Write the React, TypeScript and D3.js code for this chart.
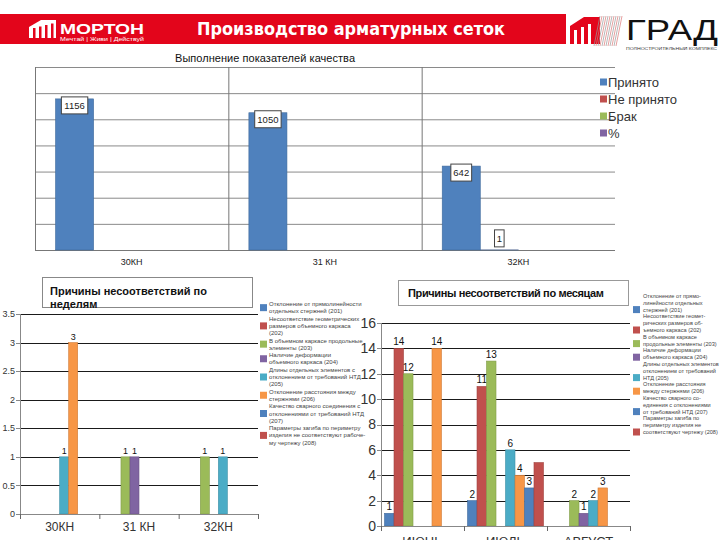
import { useEffect, useRef } from 'react';
import * as d3 from 'd3';

const W = 720;
const H = 540;

// upper chart: quality indicators by week
const qualityCategories = ['30КН', '31 КН', '32КН'];
const qualitySeries = ['Принято', 'Не принято', 'Брак', '%'];
const accepted = [1156, 1050, 642];
const rejected = [0, 0, 1];
const defects = [0, 0, 0];
const percent = [0, 0, 0];

// reasons of non-conformity
const reasonColors = ['#4F81BD', '#C0504D', '#9BBB59', '#8064A2', '#4BACC6', '#F79646', '#4F81BD', '#C0504D'];
const reasonLegendLeft = [
  ['Отклонение от прямолинейности', 'отдельных стержней (201)'],
  ['Несоответствие геометрических', 'размеров объемного каркаса', '(202)'],
  ['В объемном каркасе продольные', 'элементы (203)'],
  ['Наличие деформации', 'объемного каркаса (204)'],
  ['Длины отдельных элементов с', 'отклонением от требований НТД', '(205)'],
  ['Отклонение расстояния между', 'стержнями (206)'],
  ['Качество сварного соединения с', 'отклонениями от требований НТД', '(207)'],
  ['Параметры загиба по периметру', 'изделия не соответствуют рабоче-', 'му чертежу (208)'],
];
const reasonLegendRight = [
  ['Отклонение от прямо-', 'линейности отдельных', 'стержней (201)'],
  ['Несоответствие геомет-', 'рических размеров об-', 'ъемного каркаса (202)'],
  ['В объемном каркасе', 'продольные элементы (203)'],
  ['Наличие деформации', 'объемного каркаса (204)'],
  ['Длины отдельных элементов с', 'отклонением от требований', 'НТД (205)'],
  ['Отклонение расстояния', 'между стержнями (206)'],
  ['Качество сварного со-', 'единения с отклонениями', 'от требований НТД (207)'],
  ['Параметры загиба по', 'периметру изделия не', 'соответствуют чертежу (208)'],
];

const weekCategories = ['30КН', '31 КН', '32КН'];
const week201 = [0, 0, 0];
const week202 = [0, 0, 0];
const week203 = [0, 1, 1];
const week204 = [0, 1, 0];
const week205 = [1, 0, 1];
const week206 = [3, 0, 0];
const week207 = [0, 0, 0];
const week208 = [0, 0, 0];
const weekTicks = [0, 0.5, 1, 1.5, 2, 2.5, 3, 3.5];

const monthCategories = ['ИЮНЬ', 'ИЮЛЬ', 'АВГУСТ'];
const month201 = [1, 2, 0];
const month202 = [14, 11, 0];
const month203 = [12, 13, 2];
const month204 = [0, 0, 1];
const month205 = [0, 6, 2];
const month206 = [14, 4, 3];
const month207 = [0, 3, 0];
const month208 = [0, 5, 0];
const monthTicks = [0, 2, 4, 6, 8, 10, 12, 14, 16];

const FONT = '"Liberation Sans", Arial, sans-serif';

export default function App() {
  const ref = useRef<SVGSVGElement | null>(null);

  useEffect(() => {
    const el = ref.current;
    if (!el) return;
    const svg = d3.select(el);
    svg.selectAll('*').remove();
    svg.append('rect').attr('width', W).attr('height', H).attr('fill', '#fff');

    // ---------- header ----------
    const hdr = svg.append('g');
    hdr.append('rect').attr('x', 0).attr('y', 14).attr('width', 566).attr('height', 30).attr('fill', '#E3051B');
    // morton icon
    hdr.append('path').attr('d', 'M29,38 L29,27 L41,20 L56,20 L56,38 Z').attr('fill', '#fff');
    [33, 39, 45, 51].forEach((x, i) => {
      hdr.append('rect').attr('x', x).attr('y', 28 - i * 1.5).attr('width', 2.5).attr('height', 10 + i * 1.5).attr('fill', '#E3051B');
    });
    hdr.append('text').attr('x', 60).attr('y', 33.5).attr('fill', '#fff').attr('font-family', FONT)
      .attr('font-weight', 700).attr('font-size', 14).attr('textLength', 84).attr('lengthAdjust', 'spacingAndGlyphs').text('МОРТОН');
    hdr.append('text').attr('x', 60).attr('y', 40.5).attr('fill', '#fff').attr('font-family', FONT)
      .attr('font-size', 5).attr('textLength', 84).attr('lengthAdjust', 'spacingAndGlyphs').text('Мечтай | Живи | Действуй');
    hdr.append('text').attr('x', 197).attr('y', 35).attr('fill', '#fff').attr('font-family', '"DejaVu Sans", sans-serif')
      .attr('font-weight', 700).attr('font-size', 17).attr('textLength', 308).attr('lengthAdjust', 'spacingAndGlyphs')
      .text('Производство арматурных сеток');
    // grad logo
    hdr.append('path').attr('d', 'M570,44 L570,26 L584,17 L600,17 L600,44 Z').attr('fill', '#E3051B');
    [574, 581, 588].forEach((x, i) => {
      hdr.append('rect').attr('x', x).attr('y', 30 - i * 3).attr('width', 3).attr('height', 14 + i * 3).attr('fill', '#fff');
    });
    for (let i = 0; i < 12; i++) {
      hdr.append('line').attr('x1', 600 + i * 2).attr('y1', 16).attr('x2', 600 + i * 2 - 6).attr('y2', 46)
        .attr('stroke', i % 2 ? '#d77' : '#999').attr('stroke-width', 0.7);
    }
    hdr.append('text').attr('x', 626).attr('y', 40).attr('fill', '#111').attr('font-family', FONT)
      .attr('font-size', 30).attr('textLength', 92).attr('lengthAdjust', 'spacingAndGlyphs').text('ГРАД');
    hdr.append('text').attr('x', 626).attr('y', 49.5).attr('fill', '#333').attr('font-family', FONT)
      .attr('font-size', 4).attr('textLength', 91).attr('lengthAdjust', 'spacingAndGlyphs').text('ПОЛНОСТРОИТЕЛЬНЫЙ КОМПЛЕКС');

    // ---------- top chart ----------
    const top = svg.append('g');
    const qx0 = 35, qx1 = 615, qyTop = 67, qyBot = 250;
    const qx = d3.scaleBand<string>().domain(qualityCategories).range([qx0, qx1]);
    const qs = d3.scaleBand<string>().domain(qualitySeries).range([0, qx.bandwidth()]).paddingOuter(0.54);
    const qy = d3.scaleLinear().domain([0, 1400]).range([qyBot, qyTop]);
    const qVals = [accepted, rejected, defects, percent];
    const qColors = ['#4F81BD', '#C0504D', '#9BBB59', '#8064A2'];

    top.append('text').attr('x', 265).attr('y', 62).attr('text-anchor', 'middle').attr('font-family', FONT)
      .attr('font-size', 11).attr('fill', '#111').attr('textLength', 180).text('Выполнение показателей качества');
    qy.ticks(7).forEach((t) => {
      top.append('line').attr('x1', qx0).attr('x2', qx1).attr('y1', qy(t) + 0.5).attr('y2', qy(t) + 0.5)
        .attr('stroke', t === 0 ? '#777' : '#8a8a8a').attr('stroke-width', 1);
    });
    [qx0, ...qualityCategories.slice(1).map((c) => qx(c) as number)].forEach((x) => {
      top.append('line').attr('x1', x + 0.5).attr('x2', x + 0.5).attr('y1', qyTop).attr('y2', qyBot)
        .attr('stroke', '#777').attr('stroke-width', 1);
    });
    qualitySeries.forEach((s, si) => {
      qualityCategories.forEach((c, ci) => {
        const v = qVals[si][ci];
        if (!v) return;
        const x = (qx(c) as number) + (qs(s) as number);
        const y = qy(v);
        top.append('rect').attr('x', x).attr('y', y).attr('width', qs.bandwidth()).attr('height', qyBot - y)
          .attr('fill', qColors[si]).attr('stroke', '#3f6a9c').attr('stroke-width', 0.6);
      });
    });
    qualitySeries.forEach((s, si) => {
      qualityCategories.forEach((c, ci) => {
        const v = qVals[si][ci];
        if (!v) return;
        const cx = (qx(c) as number) + (qs(s) as number) + qs.bandwidth() / 2;
        const y = qy(v);
        const label = String(v);
        const bw = label.length * 5.6 + 4;
        const bh = 17;
        const by = qyBot - y > 25 ? y - 2 : y - 3 - bh;
        top.append('rect').attr('x', cx - bw / 2).attr('y', by).attr('width', bw).attr('height', bh)
          .attr('fill', '#fff').attr('stroke', '#444').attr('stroke-width', 1);
        top.append('text').attr('x', cx).attr('y', by + 12).attr('text-anchor', 'middle').attr('font-family', FONT)
          .attr('font-size', 9.5).attr('fill', '#222').text(label);
      });
    });
    qualityCategories.forEach((c) => {
      top.append('text').attr('x', (qx(c) as number) + qx.bandwidth() / 2).attr('y', 265).attr('text-anchor', 'middle')
        .attr('font-family', FONT).attr('font-size', 9).attr('fill', '#222').text(c);
    });
    qualitySeries.forEach((s, i) => {
      const y = 82 + i * 17;
      top.append('rect').attr('x', 600).attr('y', y - 3.5).attr('width', 7).attr('height', 7).attr('fill', qColors[i]);
      top.append('text').attr('x', 608).attr('y', y + 4.5).attr('font-family', FONT).attr('font-size', 13)
        .attr('fill', '#333').text(s);
    });

    // ---------- reason bar charts ----------
    const reasonChart = (
      g: d3.Selection<SVGGElement, unknown, null, undefined>,
      cats: string[],
      series: number[][],
      x0: number, x1: number, yTop: number, yBot: number,
      ticks: number[], tickFmt: (t: number) => string,
      outer: number, opts: { tickFont: number; catFont: number; catY: number; labelFont: number; hideLabels: number[] },
    ) => {
      const x = d3.scaleBand<string>().domain(cats).range([x0, x1]);
      const sIdx = series.map((_, i) => String(i));
      const xs = d3.scaleBand<string>().domain(sIdx).range([0, x.bandwidth()]).paddingOuter(outer);
      const y = d3.scaleLinear().domain([0, ticks[ticks.length - 1]]).range([yBot, yTop]);
      ticks.forEach((t) => {
        if (t > 0) {
          g.append('line').attr('x1', x0).attr('x2', x1).attr('y1', Math.round(y(t)) + 0.5).attr('y2', Math.round(y(t)) + 0.5)
            .attr('stroke', '#1a1a1a').attr('stroke-width', 1);
        }
        g.append('line').attr('x1', x0 - 4).attr('x2', x0).attr('y1', Math.round(y(t)) + 0.5).attr('y2', Math.round(y(t)) + 0.5)
          .attr('stroke', '#888');
        g.append('text').attr('x', x0 - 5).attr('y', y(t) + opts.tickFont * 0.35).attr('text-anchor', 'end')
          .attr('font-family', FONT).attr('font-size', opts.tickFont).attr('fill', '#333').text(tickFmt(t));
      });
      series.forEach((vals, si) => {
        cats.forEach((c, ci) => {
          const v = vals[ci];
          if (!v) return;
          const bx = (x(c) as number) + (xs(String(si)) as number);
          g.append('rect').attr('x', bx).attr('y', y(v)).attr('width', xs.bandwidth()).attr('height', yBot - y(v))
            .attr('fill', reasonColors[si]).attr('stroke', d3.color(reasonColors[si])!.darker(0.5).toString()).attr('stroke-width', 0.6);
          if (!opts.hideLabels.includes(si)) {
            g.append('text').attr('x', bx + xs.bandwidth() / 2).attr('y', y(v) - 3).attr('text-anchor', 'middle')
              .attr('font-family', FONT).attr('font-size', opts.labelFont).attr('fill', '#111').text(String(v));
          }
        });
      });
      g.append('line').attr('x1', x0 + 0.5).attr('x2', x0 + 0.5).attr('y1', yTop).attr('y2', yBot).attr('stroke', '#888');
      g.append('line').attr('x1', x0).attr('x2', x1).attr('y1', yBot + 0.5).attr('y2', yBot + 0.5).attr('stroke', '#888');
      [x0, ...cats.slice(1).map((c) => x(c) as number), x1].forEach((tx) => {
        g.append('line').attr('x1', tx + 0.5).attr('x2', tx + 0.5).attr('y1', yBot).attr('y2', yBot + 5).attr('stroke', '#666');
      });
      cats.forEach((c) => {
        g.append('text').attr('x', (x(c) as number) + x.bandwidth() / 2).attr('y', opts.catY).attr('text-anchor', 'middle')
          .attr('font-family', FONT).attr('font-size', opts.catFont).attr('fill', '#333').text(c);
      });
    };

    const legend = (
      g: d3.Selection<SVGGElement, unknown, null, undefined>,
      entries: string[][], sx: number, tx: number, y0: number, lh: number, font: number, squareAtLast: boolean,
    ) => {
      let y = y0;
      entries.forEach((lines, i) => {
        lines.forEach((ln, li) => {
          g.append('text').attr('x', tx).attr('y', y + li * lh).attr('font-family', FONT).attr('font-size', font)
            .attr('fill', '#444').text(ln);
        });
        const cy = squareAtLast ? y + (lines.length - 1) * lh - 2 : y + ((lines.length - 1) * lh) / 2 - 2;
        g.append('rect').attr('x', sx).attr('y', cy - 3.5).attr('width', 7).attr('height', 7).attr('fill', reasonColors[i]);
        y += lines.length * lh;
      });
    };

    // weekly
    const wk = svg.append('g');
    reasonChart(wk, weekCategories, [week201, week202, week203, week204, week205, week206, week207, week208],
      20, 258, 314, 514, weekTicks, (t) => String(t), 0.4,
      { tickFont: 9, catFont: 12, catY: 531, labelFont: 9, hideLabels: [] });
    wk.append('rect').attr('x', 42.5).attr('y', 277.5).attr('width', 210).attr('height', 30).attr('fill', '#fff').attr('stroke', '#888');
    wk.append('text').attr('x', 50).attr('y', 295).attr('font-family', FONT).attr('font-weight', 700).attr('font-size', 11)
      .attr('fill', '#111').text('Причины несоответствий по');
    wk.append('text').attr('x', 50).attr('y', 308).attr('font-family', FONT).attr('font-weight', 700).attr('font-size', 11)
      .attr('fill', '#111').text('неделям');
    legend(wk, reasonLegendLeft, 260, 269, 306, 7.3, 6, false);

    // monthly
    const mo = svg.append('g');
    reasonChart(mo, monthCategories, [month201, month202, month203, month204, month205, month206, month207, month208],
      381, 630, 323, 526, monthTicks, (t) => String(t), 0.37,
      { tickFont: 14, catFont: 13, catY: 546, labelFont: 10, hideLabels: [7] });
    mo.append('rect').attr('x', 398.5).attr('y', 280.5).attr('width', 230).attr('height', 25).attr('fill', '#fff').attr('stroke', '#999');
    mo.append('text').attr('x', 408).attr('y', 297).attr('font-family', FONT).attr('font-weight', 700).attr('font-size', 11)
      .attr('fill', '#111').attr('textLength', 196).text('Причины несоответствий по месяцам');
    legend(mo, reasonLegendRight, 633, 643, 298, 6.8, 5.6, true);
  }, []);

  return (
    <div style={{ position: 'absolute', left: 0, top: 0, width: W, height: H, overflow: 'hidden' }}>
      <svg ref={ref} width={W} height={H} style={{ display: 'block' }} />
    </div>
  );
}
